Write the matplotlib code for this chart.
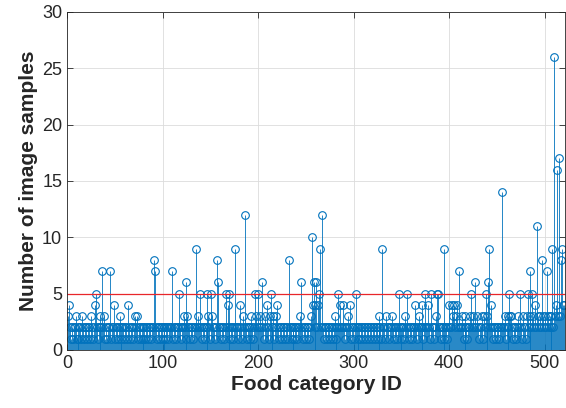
import numpy as np
import matplotlib
matplotlib.use('Agg')
import matplotlib.pyplot as plt

plt.rcParams['font.family'] = ['Liberation Sans', 'DejaVu Sans']

# number of image samples per food category (IDs 1..520)
samples = [
    3, 4, 2, 1, 2, 1, 2, 2, 3, 1, 2, 1, 2, 2, 1, 3, 2, 1, 2, 2,
    1, 2, 2, 1, 3, 2, 1, 2, 4, 5, 2, 1, 2, 2, 3, 2, 7, 2, 3, 1,
    2, 1, 2, 2, 7, 1, 2, 2, 4, 1, 2, 2, 1, 2, 3, 2, 1, 2, 2, 1,
    2, 2, 1, 4, 2, 1, 2, 2, 1, 2, 3, 2, 3, 1, 2, 2, 1, 2, 1, 2,
    2, 1, 2, 2, 1, 2, 2, 1, 2, 2, 8, 7, 2, 1, 2, 2, 1, 2, 2, 1,
    2, 2, 1, 2, 2, 1, 2, 2, 2, 7, 1, 2, 2, 1, 2, 2, 5, 2, 1, 2,
    2, 3, 2, 1, 6, 3, 2, 2, 1, 2, 2, 1, 2, 2, 9, 2, 3, 2, 5, 2,
    1, 2, 2, 1, 2, 5, 2, 3, 2, 1, 5, 3, 2, 2, 1, 2, 8, 6, 2, 2,
    1, 2, 2, 1, 2, 5, 2, 4, 5, 2, 1, 2, 2, 1, 2, 9, 2, 2, 1, 2,
    4, 2, 1, 3, 2, 12, 2, 1, 2, 2, 1, 2, 3, 2, 1, 2, 5, 3, 2, 5,
    2, 3, 2, 6, 2, 1, 3, 2, 4, 2, 1, 3, 5, 2, 2, 3, 1, 2, 3, 4,
    2, 1, 2, 2, 1, 2, 2, 1, 2, 2, 1, 8, 2, 2, 1, 2, 2, 1, 2, 2,
    1, 2, 2, 3, 6, 2, 1, 2, 2, 1, 2, 2, 1, 2, 3, 10, 4, 6, 2, 4,
    6, 2, 4, 5, 9, 2, 12, 2, 1, 2, 2, 1, 2, 2, 1, 2, 2, 1, 2, 3,
    2, 1, 2, 5, 2, 4, 2, 2, 4, 2, 1, 2, 2, 3, 2, 4, 1, 2, 2, 1,
    2, 5, 2, 1, 2, 2, 1, 2, 2, 1, 2, 2, 1, 2, 2, 1, 2, 2, 1, 2,
    2, 1, 2, 2, 1, 3, 2, 2, 1, 9, 2, 2, 1, 3, 2, 2, 1, 2, 2, 3,
    2, 1, 2, 2, 1, 2, 5, 2, 2, 1, 2, 2, 1, 3, 2, 5, 2, 1, 2, 2,
    1, 2, 2, 4, 2, 1, 2, 3, 2, 2, 4, 2, 1, 2, 5, 2, 2, 4, 2, 1,
    5, 2, 2, 1, 2, 3, 5, 5, 2, 2, 1, 2, 2, 1, 9, 2, 2, 1, 2, 4,
    2, 2, 4, 3, 4, 2, 3, 4, 2, 7, 2, 2, 3, 2, 1, 2, 3, 2, 1, 2,
    2, 3, 5, 2, 3, 2, 6, 2, 3, 2, 1, 2, 2, 3, 1, 3, 2, 5, 2, 3,
    6, 9, 2, 4, 2, 1, 2, 2, 1, 2, 2, 1, 2, 2, 14, 2, 2, 3, 1, 2,
    2, 3, 5, 3, 3, 2, 1, 2, 2, 1, 2, 3, 2, 5, 2, 1, 3, 2, 2, 1,
    3, 5, 2, 3, 7, 2, 5, 3, 2, 4, 2, 11, 3, 2, 3, 2, 8, 3, 2, 3,
    2, 7, 3, 2, 3, 2, 3, 9, 2, 26, 3, 4, 16, 3, 17, 3, 8, 9, 4, 4,
]
ids = np.arange(1, len(samples) + 1)
threshold = 5

blue = '#0072BD'
fig = plt.figure(figsize=(5.66, 4.08), dpi=100)
ax = fig.add_axes([0.1184, 0.1422, 0.8796, 0.8284])

ml, sl, bl = ax.stem(ids, samples, basefmt=' ')
plt.setp(sl, color=blue, linewidth=0.6)
plt.setp(ml, color=blue, marker='o', markersize=5.5, markerfacecolor='none',
         markeredgewidth=0.8)
ax.axhline(threshold, color='#e8262a', linewidth=0.9)

ax.set_xlim(0, 521)
ax.set_ylim(0, 30)
ax.set_xticks([0, 100, 200, 300, 400, 500])
ax.set_yticks([0, 5, 10, 15, 20, 25, 30])
ax.grid(True, color='#dcdcdc', linewidth=0.6)
ax.set_axisbelow(True)
ax.tick_params(direction='in', top=True, right=True, labelsize=13,
               colors='#262626', length=4, width=0.6)
for s in ax.spines.values():
    s.set_color('#262626')
    s.set_linewidth(0.6)

ax.set_xlabel('Food category ID', fontsize=15, fontweight='bold', color='#262626',
              labelpad=2)
ax.set_ylabel('Number of image samples', fontsize=15, fontweight='bold', color='#262626',
              labelpad=3)

fig.savefig('out.png', dpi=100)
